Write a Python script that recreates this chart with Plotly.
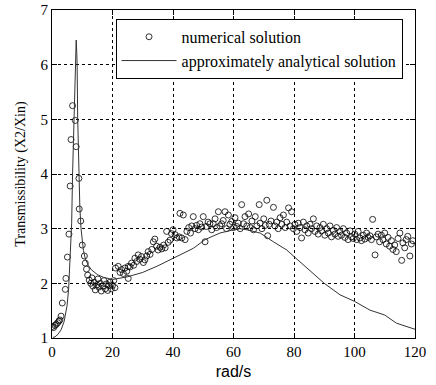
import plotly.graph_objects as go

# Analytical solution curve
ana_x = [0.3, 1, 2, 3, 4, 5, 5.5, 6, 6.5, 6.8, 7.1, 7.3, 7.6, 7.9, 8.0, 8.2, 8.3, 8.5, 8.8, 9.2, 9.6, 10.0, 10.4, 11, 12, 13, 14, 15, 17, 20,
         25, 30, 35, 40, 43, 46.7, 50.6, 55.5, 60, 62, 64.4, 68.8, 73.2, 77.6, 80, 84.2, 90, 95.2, 100, 105.1, 110, 113.9, 117, 120]
ana_y = [1.01, 1.02, 1.07, 1.15, 1.3, 1.6, 1.9, 2.4, 3.1, 4.0, 4.6, 5.0, 5.5, 6.0, 6.45, 6.2, 6.0, 5.0, 4.0, 3.4, 3.0, 2.75, 2.6, 2.45, 2.33, 2.25, 2.2, 2.16, 2.11, 2.07,
         2.12, 2.2, 2.32, 2.46, 2.55, 2.64, 2.80, 2.92, 2.98, 3.0, 2.98, 2.92, 2.76, 2.61, 2.49, 2.28, 2.0, 1.79, 1.67, 1.51, 1.42, 1.27, 1.22, 1.16]

# Numerical solution points
num_x = [0.1, 0.5, 1.0, 1.4, 1.9, 2.3, 2.6, 3.0, 3.4, 4.4, 4.6, 5.1, 5.6, 6.0, 6.3, 6.8, 7.7, 8.0, 8.9, 9.0, 9.5, 10.0, 10.7, 11.0, 11.4, 11.8, 12.3,
         12.8, 13.2, 13.5, 14.0, 14.3, 14.8, 15.2, 15.5, 16.0, 16.3, 16.8, 17.2, 17.6, 18.0, 18.4, 18.8, 19.2, 19.6, 20.0, 20.4, 20.8,
         21.0, 21.9, 22.5, 23.0, 23.6, 24.1, 24.7, 25.2, 25.2, 25.8, 26.3, 27.0, 27.4, 28.0, 28.5, 29.0, 29.6, 30.2, 30.7, 31.3, 31.8, 32.4,
         33.0, 33.5, 34.0, 34.6, 35.1, 35.7, 36.3, 36.9, 37.4, 37.9, 38.4, 39.0, 39.5, 40.0,
         40.7, 41.3, 42.0, 42.3, 42.9, 43.4, 44.0, 44.6, 45.2, 45.8, 46.2, 46.7, 47.3, 47.8, 48.4, 48.9, 49.5, 50.0, 50.6, 51.0, 51.6,
         52.2, 52.8, 53.3, 53.9, 54.4, 55.0, 55.5, 56.1, 56.6, 57.2, 57.7, 58.3, 58.8, 59.4, 60.0, 60.5, 61.1, 61.6, 62.2, 62.7, 63.3,
         63.8, 64.4, 65.0,
         65.5, 66.1, 66.6, 67.2, 67.7, 68.5, 68.8, 69.4, 70.0, 70.5, 71.0, 71.3, 71.8, 72.4, 73.2, 73.7, 74.3, 74.8, 75.4, 76.0, 76.5,
         77.1, 77.6, 78.2, 78.7, 79.2, 79.8, 80.3, 80.9, 81.4, 82.0, 82.5, 83.1, 83.6, 84.2, 84.7, 85.3, 85.8, 86.4, 86.9, 87.5, 88.0,
         88.6, 89.1, 89.7,
         90.2, 90.8, 91.3, 91.9, 92.4, 93.0, 93.5, 94.1, 94.6, 95.2, 95.7, 96.3, 96.8, 97.4, 97.9, 98.5, 99.0, 99.6, 100.1, 100.7, 101.2,
         101.8, 102.3, 102.9, 103.4, 104.0, 104.5, 105.1, 105.6, 106.0, 106.8, 107.2, 107.8, 108.3, 108.9, 109.4, 110.0, 110.5, 111.1,
         111.6, 112.2, 112.7, 113.3, 113.8, 114.4, 115.0, 115.6, 116.0, 116.6, 117.1, 117.6, 118.3, 118.8, 119.3]
num_y = [1.21, 1.19, 1.23, 1.25, 1.28, 1.31, 1.33, 1.40, 1.64, 1.89, 2.09, 2.48, 2.90, 3.78, 4.63, 5.25, 4.98, 4.50, 3.92, 3.36, 3.14, 2.70, 2.50, 2.37, 2.26, 2.15, 2.06,
         2.00, 2.10, 1.95, 2.02, 1.88, 1.97, 2.08, 1.93, 2.00, 1.86, 1.95, 2.05, 1.90, 1.99, 1.87, 1.96, 2.02, 1.90, 1.96, 2.05, 1.92,
         2.28, 2.31, 2.20, 2.25, 2.18, 2.28, 2.22, 2.09, 2.31, 2.30, 2.37, 2.33, 2.46, 2.40, 2.52, 2.44, 2.49, 2.38, 2.43, 2.50, 2.58, 2.53,
         2.62, 2.76, 2.81, 2.68, 2.61, 2.66, 2.63, 2.70, 2.65, 2.95, 2.75, 2.79, 2.91, 2.98,
         2.89, 2.83, 2.85, 3.28, 2.83, 3.25, 2.80, 2.95, 3.02, 2.92, 3.05, 3.22, 3.00, 3.06, 2.98, 3.09, 3.03, 3.22, 2.76, 3.04, 3.12,
         3.09, 2.98, 3.09, 3.18, 3.02, 3.31, 3.05, 3.09, 3.15, 3.31, 3.00, 3.25, 3.08, 3.13, 3.02, 3.20, 3.04, 3.10, 3.00, 3.44, 3.09,
         3.22, 3.05, 3.27,
         3.02, 3.14, 2.98, 3.22, 3.05, 3.44, 3.10, 3.00, 3.18, 3.06, 3.52, 2.87, 3.08, 3.14, 3.39, 3.05, 3.12, 3.00, 3.20, 3.08, 3.25,
         3.02, 3.12, 3.38, 3.05, 3.31, 3.00, 3.08, 2.95, 3.10, 3.02, 2.83, 3.12, 2.98, 3.05, 2.92, 3.08, 3.00, 3.18, 2.95, 3.05, 2.90,
         3.02, 2.96, 3.08,
         2.88, 3.00, 2.92, 3.05, 2.85, 2.97, 2.90, 3.02, 2.86, 2.95, 2.88, 3.00, 2.84, 2.92, 2.80, 2.96, 2.85, 2.82, 2.90, 2.80, 2.95,
         2.83, 2.78, 2.88, 2.81, 2.92, 2.84, 2.87, 2.80, 3.17, 2.52, 2.85, 2.90, 2.76, 2.88, 2.80, 2.92, 2.72, 2.84,
         2.68, 2.78, 2.62, 2.70, 2.58, 2.82, 2.92, 2.42, 2.74, 2.65, 2.80, 2.86, 2.50, 2.72, 2.78]

x_ticks = [0, 20, 40, 60, 80, 100, 120]
y_ticks = [1, 2, 3, 4, 5, 6, 7]

serif = "Liberation Serif, Times New Roman, serif"

fig = go.Figure()
fig.add_trace(go.Scatter(
    x=num_x, y=num_y, mode="markers", name="numerical solution",
    marker=dict(symbol="circle-open", size=6, color="black", line=dict(width=0.8, color="black")),
))
fig.add_trace(go.Scatter(
    x=ana_x, y=ana_y, mode="lines", name="approximately analytical solution",
    line=dict(color="#333333", width=1),
))

axis_common = dict(
    showline=True, linecolor="black", linewidth=1, mirror="ticks",
    ticks="inside", ticklen=5, tickcolor="black", automargin=False,
    showgrid=True, gridcolor="black", gridwidth=1, griddash="dot",
    zeroline=False, tickfont=dict(family=serif, size=15, color="black"),
)

fig.update_layout(
    width=436, height=385,
    margin=dict(l=52, r=21, t=10, b=47),
    paper_bgcolor="white", plot_bgcolor="white",
    xaxis=dict(range=[0, 120], tickvals=x_ticks,
               title=dict(text="rad/s", font=dict(family="Liberation Sans, Arial, sans-serif", size=16, color="black"), standoff=6),
               **axis_common),
    yaxis=dict(range=[1, 7], tickvals=y_ticks,
               title=dict(text="Transmissibility (X2/Xin)", font=dict(family=serif, size=14, color="black"), standoff=11),
               **axis_common),
    legend=dict(x=0.175, y=0.973, xanchor="left", yanchor="top",
                bgcolor="white", bordercolor="black", borderwidth=1,
                font=dict(family=serif, size=16, color="black"),
                itemwidth=55, tracegroupgap=0),
    showlegend=True,
)

fig.write_html("out.html", config={"displayModeBar": False},
               post_script="document.body.style.margin='0';document.body.style.padding='0';document.body.style.overflow='hidden';")
